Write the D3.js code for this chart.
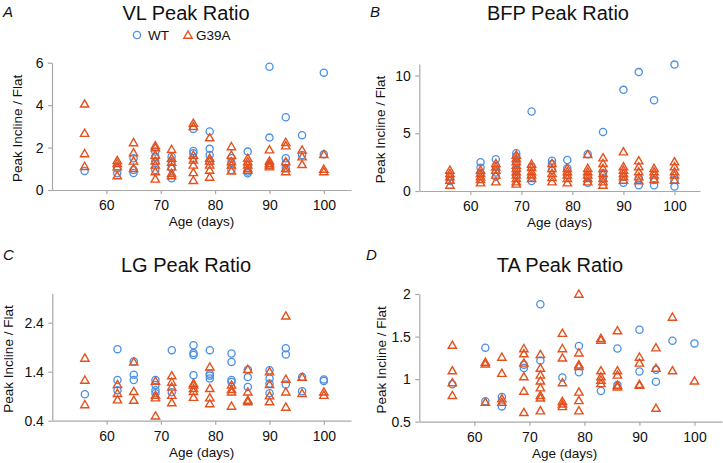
<!DOCTYPE html>
<html>
<head>
<meta charset="utf-8">
<script src="https://cdn.jsdelivr.net/npm/d3@7"></script>
<style>
  body { margin: 0; background: #fff; }
  svg { font-family: "Liberation Sans", Arial, sans-serif; }
</style>
</head>
<body>
<script>
// Ages (days) sampled; each group array holds the values measured at that age
const ages = [56, 62, 65, 69, 72, 76, 79, 83, 86, 90, 93, 96, 100];
const xTicks = [60, 70, 80, 90, 100];

// VL
const vlWT = [[0.9], [1.02, 0.79], [1.5, 0.94, 0.8], [1.81, 1.57, 1.34, 0.94], [1.57, 1.34, 1.02, 0.55],
  [2.88, 1.84, 1.73, 1.5], [2.76, 1.94, 1.65, 1.34], [1.5, 1.3, 0.94], [1.81, 1.18, 0.87, 0.79],
  [5.81, 2.47, 1.18], [3.43, 1.5, 1.26, 1.02], [2.58, 1.65], [5.53, 1.68]];
const vlG39A = [[4.06, 2.68, 1.72, 1.12], [1.4, 1.26, 1.1, 0.68], [2.24, 1.76, 1.37, 1.02],
  [2.09, 2.0, 1.65, 1.37, 1.18, 0.87, 0.52], [1.92, 1.5, 1.31, 1.1, 0.79, 0.68],
  [3.15, 3.0, 1.65, 1.42, 1.18, 0.83, 0.46], [2.47, 1.5, 1.37, 1.18, 0.94, 0.61],
  [2.05, 1.65, 1.34, 1.18, 0.9], [1.5, 1.34, 1.18, 1.02, 0.94], [1.9, 1.37, 1.26, 1.18, 1.1],
  [2.25, 2.09, 1.34, 1.02, 0.87], [1.89, 1.57, 1.21], [1.68, 0.99, 0.87]];

// BFP
const bfpWT = [[0.87, 1.24], [2.49, 2.02, 1.53], [2.75, 2.17, 1.6, 1.24], [3.27, 2.98, 2.4, 1.82, 1.39],
  [6.88, 2.1, 1.24, 0.87], [2.63, 2.34, 1.82], [2.69, 1.97, 1.39], [3.18, 1.24, 0.72],
  [5.12, 1.53, 1.1], [8.76, 1.24, 0.72], [10.3, 1.1, 0.49], [7.86, 0.95, 0.49], [10.95, 0.95, 0.38]];
const bfpG39A = [[1.82, 1.53, 1.24, 0.95, 0.52], [1.82, 1.53, 1.24, 1.01, 0.72], [2.4, 2.1, 1.82, 1.39, 0.81],
  [3.12, 2.83, 2.54, 2.25, 1.97, 1.68, 1.39, 1.1, 0.81, 0.61], [2.34, 2.05, 1.68, 1.39, 1.1],
  [2.4, 1.97, 1.53, 1.18, 0.81], [1.97, 1.68, 1.39, 1.1, 0.72], [3.18, 1.97, 1.68, 1.39, 1.1, 0.81],
  [2.89, 2.4, 1.97, 1.53, 1.1, 0.81, 0.52], [3.41, 2.11, 1.82, 1.53, 1.24, 0.95],
  [2.63, 2.11, 1.68, 1.24, 0.9], [1.97, 1.68, 1.39, 1.01], [2.54, 2.11, 1.68, 1.39, 0.95]];

// LG
const lgWT = [[0.94], [1.86, 1.23, 1.02], [1.61, 1.34, 1.23], [1.23, 1.13, 1.02, 0.96], [1.84, 0.98],
  [1.94, 1.78, 1.74, 1.33], [1.84, 1.36, 1.32, 1.26], [1.77, 1.6, 1.23, 1.19], [1.44, 1.29, 1.09],
  [1.43, 1.26, 1.16, 0.96], [1.88, 1.75, 1.14], [1.29, 1.0], [1.24, 1.21]];
const lgG39A = [[1.68, 1.23, 0.73], [1.14, 0.96, 0.83], [1.6, 1.0, 0.82], [1.21, 0.92, 0.87, 0.5],
  [1.32, 1.19, 1.09, 0.92, 0.77], [1.16, 1.13, 1.06, 1.0, 0.88], [1.5, 1.06, 0.87, 0.75],
  [1.13, 1.04, 0.99, 0.7], [1.45, 0.99, 0.82, 0.79], [1.4, 1.14, 0.91, 0.79],
  [2.54, 1.25, 0.99, 0.68], [1.29, 0.96], [0.99, 0.92]];

// TA
const taWT = [[0.94], [1.37, 0.74], [0.79, 0.68], [1.17, 1.13], [1.88, 1.22], [1.02], [1.39, 1.08],
  [0.86], [1.36, 0.93], [1.58, 1.09], [1.11, 0.97], [1.45], [1.42]];
const taG39A = [[1.4, 1.1, 0.96, 0.81], [1.2, 1.18, 0.73], [1.26, 1.07, 0.77, 0.73],
  [1.36, 1.3, 1.19, 1.03, 0.86, 0.61], [1.29, 1.13, 1.05, 0.98, 0.9, 0.81, 0.78, 0.63],
  [1.54, 1.36, 1.25, 0.96, 0.74, 0.71, 0.68], [2.0, 1.31, 1.17, 1.15, 0.85, 0.75, 0.63],
  [1.48, 1.46, 1.1, 1.03, 0.99, 0.95], [1.57, 1.1, 1.05, 0.93, 0.91], [1.26, 1.19, 0.94, 0.93],
  [1.37, 1.13, 0.66], [1.73, 1.1], [0.98]];

const blue = "#4a8fe6", orange = "#e4511c", axisColor = "#a8a8a8";

const svg = d3.select("body").append("svg").attr("width", 723).attr("height", 463);

const panels = [
  { letter: "A", title: "VL Peak Ratio", wt: vlWT, mut: vlG39A,
    xr: [52, 351], yd: [0, 6], yr: [190, 62.7], yt: [0, 2, 4, 6], fmt: d3.format("d"),
    titleX: 186, titleY: 20, letterX: 3, letterY: 17, legend: true, ylabX: 22 },
  { letter: "B", title: "BFP Peak Ratio", wt: bfpWT, mut: bfpG39A,
    xr: [419.3, 700], yd: [0, 11], yr: [191, 64], yt: [0, 5, 10], fmt: d3.format("d"),
    titleX: 558, titleY: 20, letterX: 370, letterY: 17, legend: false, ylabX: 385 },
  { letter: "C", title: "LG Peak Ratio", wt: lgWT, mut: lgG39A,
    xr: [52.3, 351], yd: [0.4, 3.0], yr: [420.7, 293.3], yt: [0.4, 1.4, 2.4], fmt: d3.format(".1f"),
    titleX: 186, titleY: 272, letterX: 3, letterY: 260, legend: false, ylabX: 13 },
  { letter: "D", title: "TA Peak Ratio", wt: taWT, mut: taG39A,
    xr: [419.3, 722], yd: [0.5, 2], yr: [421.7, 294], yt: [0.5, 1, 1.5, 2], fmt: d => String(d),
    titleX: 560, titleY: 272, letterX: 366, letterY: 260, legend: false, ylabX: 386 }
];

const flatten = (arr) => arr.flatMap((vals, i) => vals.map(v => ({ age: ages[i], value: v })));

panels.forEach(p => {
  const x = d3.scaleLinear().domain([50, 105]).range(p.xr);
  const y = d3.scaleLinear().domain(p.yd).range(p.yr);
  const g = svg.append("g");
  const top = p.yr[1];
  const bottom = p.yr[0];

  // titles and panel letters
  g.append("text").attr("x", p.titleX).attr("y", p.titleY)
    .attr("text-anchor", "middle").attr("font-size", 20).attr("fill", "#111")
    .text(p.title);
  g.append("text").attr("x", p.letterX).attr("y", p.letterY)
    .attr("font-size", 15).attr("font-style", "italic").attr("fill", "#111")
    .text(p.letter);

  // axes
  const xAxis = g.append("g").attr("transform", `translate(0,${bottom})`)
    .call(d3.axisBottom(x).tickValues(xTicks).tickSize(4).tickSizeOuter(0));
  const yAxis = g.append("g").attr("transform", `translate(${p.xr[0]},0)`)
    .call(d3.axisLeft(y).tickValues(p.yt).tickFormat(p.fmt).tickSize(4).tickSizeOuter(0));
  [xAxis, yAxis].forEach(a => {
    a.select(".domain").attr("stroke", axisColor).attr("stroke-width", 1.2);
    a.selectAll(".tick line").attr("stroke", axisColor).attr("stroke-width", 1.2);
    a.selectAll(".tick text").attr("font-size", 14).attr("fill", "#111")
      .attr("font-family", "'Liberation Sans', Arial, sans-serif");
  });
  xAxis.selectAll(".tick text").attr("dy", "0.95em");
  yAxis.selectAll(".tick text").attr("dx", "-0.1em");

  g.append("text").attr("x", (p.xr[0] + p.xr[1]) / 2 + (p.letter === "D" ? -6 : 0)).attr("y", bottom + 36)
    .attr("text-anchor", "middle").attr("font-size", 13.5).attr("fill", "#111").text("Age (days)");
  g.append("text")
    .attr("transform", `translate(${p.ylabX},${(top + bottom) / 2 + 2}) rotate(-90)`)
    .attr("text-anchor", "middle").attr("font-size", 13.5).attr("fill", "#111")
    .text("Peak Incline / Flat");

  // WT circles
  g.selectAll(".wt").data(flatten(p.wt)).enter().append("circle")
    .attr("cx", d => x(d.age)).attr("cy", d => y(d.value)).attr("r", 3.6)
    .attr("fill", "none").attr("stroke", blue).attr("stroke-width", 1.3);

  // G39A triangles
  const tri = d3.symbol().type(d3.symbolTriangle).size(30);
  g.selectAll(".mut").data(flatten(p.mut)).enter().append("path")
    .attr("d", tri).attr("transform", d => `translate(${x(d.age)},${y(d.value) + 0.8})`)
    .attr("fill", "none").attr("stroke", orange).attr("stroke-width", 1.4);

  if (p.legend) {
    const lg = g.append("g");
    lg.append("circle").attr("cx", 137).attr("cy", 35).attr("r", 3.6)
      .attr("fill", "none").attr("stroke", blue).attr("stroke-width", 1.3);
    lg.append("text").attr("x", 148).attr("y", 40).attr("font-size", 13.5).attr("fill", "#111").text("WT");
    lg.append("path").attr("d", tri).attr("transform", "translate(188,35.8)")
      .attr("fill", "none").attr("stroke", orange).attr("stroke-width", 1.4);
    lg.append("text").attr("x", 196).attr("y", 40).attr("font-size", 13.5).attr("fill", "#111").text("G39A");
  }
});
</script>
</body>
</html>
